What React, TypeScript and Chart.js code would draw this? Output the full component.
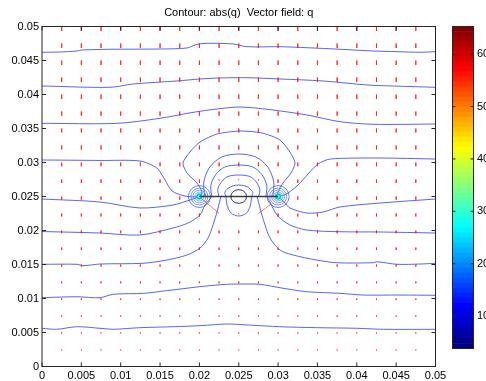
import { useEffect, useRef } from 'react';
import { Chart, registerables } from 'chart.js';

Chart.register(...registerables);

const FONT = "'Liberation Sans', Arial, Helvetica, sans-serif";
const titleText = 'Contour: abs(q)  Vector field: q';

const xTicks = [0, 0.005, 0.01, 0.015, 0.02, 0.025, 0.03, 0.035, 0.04, 0.045, 0.05];
const xTickLabels = ['0', '0.005', '0.01', '0.015', '0.02', '0.025', '0.03', '0.035', '0.04', '0.045', '0.05'];
const yTicks = [0, 0.005, 0.01, 0.015, 0.02, 0.025, 0.03, 0.035, 0.04, 0.045, 0.05];
const yTickLabels = ['0', '0.005', '0.01', '0.015', '0.02', '0.025', '0.03', '0.035', '0.04', '0.045', '0.05'];

const colorMin = 3.8;
const colorMax = 65.3;
const colorTicks = [10, 20, 30, 40, 50, 60];
const colorTickLabels = ['10', '20', '30', '40', '50', '60'];

// contour lines of abs(q), as [x, y]
const contourTop1 = [[0, 0.04621], [0.00229, 0.04625], [0.00445, 0.0464], [0.00508, 0.04654], [0.00864, 0.04665], [0.01499, 0.04669], [0.01842, 0.04684], [0.01969, 0.04738], [0.02097, 0.04753], [0.02427, 0.04743], [0.02605, 0.04703], [0.03024, 0.04703], [0.03367, 0.04688], [0.03787, 0.04665], [0.04206, 0.0464], [0.04511, 0.0463], [0.04803, 0.04621], [0.05, 0.0463]];
const contourTop2 = [[0, 0.04125], [0.00864, 0.04106], [0.01156, 0.04154], [0.01715, 0.04199], [0.02008, 0.04228], [0.02262, 0.04243], [0.02605, 0.04247], [0.03024, 0.04228], [0.03571, 0.04199], [0.0413, 0.0414], [0.0446, 0.04125], [0.05, 0.04106]];
const contourTop3 = [[0, 0.03576], [0.00953, 0.03576], [0.01499, 0.0365], [0.01969, 0.03747], [0.02427, 0.03812], [0.02605, 0.03812], [0.02935, 0.03772], [0.03367, 0.03699], [0.03787, 0.036], [0.04206, 0.03562], [0.05, 0.03566]];
const contourLobe = [[0, 0.03037], [0.00737, 0.0303], [0.01245, 0.03022], [0.01461, 0.02919], [0.01563, 0.02743], [0.01652, 0.02581], [0.01817, 0.02507], [0.02, 0.025], [0.02033, 0.02566], [0.01969, 0.02699], [0.01842, 0.02846], [0.01792, 0.02993], [0.0188, 0.03154], [0.02008, 0.03301], [0.02224, 0.03419], [0.02516, 0.03463], [0.02795, 0.03434], [0.03024, 0.03331], [0.03151, 0.03154], [0.03215, 0.02993], [0.03164, 0.02846], [0.03062, 0.02699], [0.02999, 0.02566], [0.03, 0.025], [0.03126, 0.02551], [0.03253, 0.02669], [0.0338, 0.02831], [0.03507, 0.02978], [0.0366, 0.03051], [0.04295, 0.03066], [0.05, 0.03051]];
const contourMidLeft = [[0, 0.02463], [0.00737, 0.02419], [0.01245, 0.02331], [0.01665, 0.02375], [0.01842, 0.02434], [0.01969, 0.02485], [0.02, 0.025]];
const contourMidRight = [[0.03, 0.025], [0.03088, 0.02404], [0.03151, 0.02331], [0.03363, 0.02257], [0.03571, 0.02272], [0.03787, 0.02346], [0.04295, 0.02404], [0.05, 0.02463]];
const contourLow1Left = [[0, 0.01985], [0.00737, 0.01963], [0.01245, 0.01934], [0.01665, 0.02037], [0.01855, 0.0211], [0.02008, 0.02228], [0.02071, 0.02375], [0.02135, 0.02463], [0.0216, 0.025]];
const contourLow1Right = [[0.02859, 0.025], [0.02897, 0.02419], [0.02986, 0.02228], [0.03151, 0.02081], [0.03367, 0.02007], [0.03787, 0.01982], [0.04295, 0.01978], [0.05, 0.01963]];
const contourLow2Left = [[0, 0.01503], [0.00445, 0.01503], [0.00521, 0.01482], [0.00737, 0.01507], [0.01283, 0.01518], [0.01588, 0.01566], [0.01842, 0.0164], [0.02008, 0.01743], [0.0211, 0.0189], [0.02173, 0.02081], [0.02224, 0.02272], [0.02262, 0.02449], [0.02274, 0.025]];
const contourLow2Right = [[0.02732, 0.025], [0.02745, 0.02449], [0.02783, 0.02272], [0.02834, 0.02081], [0.02897, 0.0189], [0.03024, 0.01713], [0.03189, 0.0164], [0.0349, 0.01566], [0.03748, 0.01526], [0.04206, 0.01526], [0.04257, 0.01541], [0.04511, 0.01503], [0.04803, 0.01507], [0.05, 0.01518]];
const contourLow3 = [[0, 0.01012], [0.00441, 0.01026], [0.00737, 0.01012], [0.00906, 0.01062], [0.01287, 0.01076], [0.01584, 0.01115], [0.02008, 0.01174], [0.02347, 0.01209], [0.026, 0.01213], [0.0277, 0.01209], [0.03066, 0.0115], [0.03363, 0.011], [0.03787, 0.01076], [0.04083, 0.01051], [0.04549, 0.01051], [0.05, 0.01047]];
const contourLow4 = [[0, 0.00562], [0.00186, 0.00547], [0.00441, 0.00585], [0.00737, 0.00562], [0.00906, 0.00547], [0.01245, 0.00571], [0.01669, 0.00585], [0.02008, 0.006], [0.02347, 0.00625], [0.0262, 0.0061], [0.03024, 0.00585], [0.0349, 0.00571], [0.03999, 0.00562], [0.04337, 0.00547], [0.05, 0.00547]];
const arcPlate1 = [[0.02336, 0.025], [0.02323, 0.02559], [0.02361, 0.02618], [0.02426, 0.02657], [0.025, 0.02669], [0.02576, 0.02657], [0.0264, 0.02618], [0.02679, 0.02559], [0.02666, 0.025]];
const arcPlate2 = [[0.02247, 0.025], [0.02234, 0.0261], [0.02285, 0.02721], [0.02361, 0.02794], [0.025, 0.02816], [0.0264, 0.02794], [0.02717, 0.02721], [0.02767, 0.0261], [0.02755, 0.025]];
const arcPlate3 = [[0.02158, 0.025], [0.02145, 0.02662], [0.02208, 0.02824], [0.02323, 0.02934], [0.025, 0.02963], [0.02679, 0.02934], [0.02793, 0.02824], [0.02856, 0.02662], [0.02844, 0.025]];
const arcPlate4 = [[0.02069, 0.025], [0.02056, 0.02713], [0.02132, 0.02934], [0.02285, 0.03081], [0.025, 0.03125], [0.02717, 0.03081], [0.02869, 0.02934], [0.02945, 0.02713], [0.02933, 0.025]];
const arcBelow = [[0.02338, 0.025], [0.02351, 0.02375], [0.02402, 0.02257], [0.025, 0.02213], [0.02599, 0.02257], [0.02649, 0.02375], [0.02662, 0.025]];
const centerLoop = [[0.026, 0.025], [0.02587, 0.0255], [0.0255, 0.02587], [0.025, 0.026], [0.0245, 0.02587], [0.02413, 0.0255], [0.024, 0.025], [0.02413, 0.0245], [0.0245, 0.02413], [0.025, 0.024], [0.0255, 0.02413], [0.02587, 0.0245], [0.026, 0.025]];

const plateXs = [0.02, 0.03];
const plateY = 0.025;

// vector field q
const arrowXs = [0.0025, 0.005, 0.0075, 0.01, 0.0125, 0.015, 0.0175, 0.02, 0.0225, 0.025, 0.0275, 0.03, 0.0325, 0.035, 0.0375, 0.04, 0.0425, 0.045, 0.0475];
const arrowYs = [0.05, 0.0475, 0.045, 0.0425, 0.04, 0.0375, 0.035, 0.0325, 0.03, 0.0275, 0.025, 0.0225, 0.02, 0.0175, 0.015, 0.0125, 0.01, 0.0075, 0.005, 0.0025];
const arrowRowV = [-0.00066, -0.00066, -0.00066, -0.00066, -0.00066, -0.00062, -0.00059, -0.00059, -0.00055, -0.00051, -0.00048, -0.00044, -0.0004, -0.00037, -0.00031, -0.00026, -0.00022, -0.00018, -0.00015, -0.00013];
// [x, y, u, v] near the plate
const arrowNearPlate = [
  [0.02, 0.025, 0, 0], [0.0225, 0.025, 0, 0], [0.025, 0.025, 0, 0], [0.0275, 0.025, 0, 0], [0.03, 0.025, 0, 0],
  [0.0225, 0.0275, 0, -0.00015], [0.025, 0.0275, 0, -0.0001], [0.0275, 0.0275, 0, -0.00015],
  [0.0225, 0.0225, -0.00216, 0.00213], [0.025, 0.0225, 0, -0.0001], [0.0275, 0.0225, 0.0016, 0.0014],
];

const pts = (arr: number[][]) => arr.map(([x, y]) => ({ x, y }));

function jet(t: number) {
  const c = (v: number) => Math.round(255 * Math.max(0, Math.min(1, v)));
  return `rgb(${c(1.5 - Math.abs(4 * t - 3))},${c(1.5 - Math.abs(4 * t - 2))},${c(1.5 - Math.abs(4 * t - 1))})`;
}

const mainFrame = {
  id: 'mainFrame',
  afterDraw(chart: any) {
    const { ctx, chartArea: a, scales } = chart;
    ctx.save();
    ctx.strokeStyle = '#262626';
    ctx.lineWidth = 1;
    ctx.strokeRect(a.left, a.top, a.right - a.left, a.bottom - a.top);
    ctx.beginPath();
    xTicks.forEach((v) => {
      const p = scales.x.getPixelForValue(v);
      ctx.moveTo(p, a.bottom); ctx.lineTo(p, a.bottom - 4);
      ctx.moveTo(p, a.top); ctx.lineTo(p, a.top + 4);
    });
    yTicks.forEach((v) => {
      const p = scales.y.getPixelForValue(v);
      ctx.moveTo(a.left, p); ctx.lineTo(a.left + 4, p);
      ctx.moveTo(a.right, p); ctx.lineTo(a.right - 4, p);
    });
    ctx.stroke();
    ctx.restore();
  },
};

const barFrame = {
  id: 'barFrame',
  afterDraw(chart: any) {
    const { ctx, chartArea: a, scales } = chart;
    ctx.save();
    ctx.strokeStyle = '#262626';
    ctx.lineWidth = 1;
    ctx.strokeRect(a.left, a.top, a.right - a.left, a.bottom - a.top);
    ctx.beginPath();
    colorTicks.forEach((v) => {
      const p = scales.y.getPixelForValue(v);
      ctx.moveTo(a.left, p); ctx.lineTo(a.left + 3, p);
      ctx.moveTo(a.right, p); ctx.lineTo(a.right - 3, p);
    });
    ctx.stroke();
    ctx.restore();
  },
};

export default function App() {
  const mainRef = useRef<HTMLCanvasElement>(null);
  const barRef = useRef<HTMLCanvasElement>(null);

  useEffect(() => {
    const arrowPts: any[] = [];
    arrowYs.forEach((y, r) => {
      arrowXs.forEach((x) => {
        const o = arrowNearPlate.find((a) => a[0] === x && a[1] === y);
        const u = o ? o[2] : 0;
        const v = o ? o[3] : arrowRowV[r];
        if (u === 0 && v === 0) return;
        arrowPts.push({ x, y }, { x: x + u, y: y + v }, { x: NaN, y: NaN });
      });
    });

    const line = (data: number[][], color: string, width = 1, tension = 0.3) => ({
      data: pts(data), borderColor: color, borderWidth: width, pointRadius: 0, fill: false, tension,
    });
    const charges = plateXs.map((x) => ({ x, y: plateY }));
    const ring = (r: number, color: string) => ({
      data: charges, showLine: false, pointRadius: r, pointBorderWidth: 1,
      pointBorderColor: color, pointBackgroundColor: 'rgba(0,0,0,0)',
    });
    const blue = 'rgba(40,60,235,0.78)';

    const datasets: any[] = [
      line(plateXs.map((x) => [x, plateY]), 'rgba(40,40,40,0.9)', 1.6, 0),
      { data: charges, showLine: false, pointRadius: 1.6, pointBorderWidth: 0, pointBackgroundColor: 'rgb(90,255,150)' },
      { data: charges, showLine: false, pointRadius: 3.2, pointBorderWidth: 0, pointBackgroundColor: 'rgb(0,200,235)' },
      { data: arrowPts, borderColor: 'rgba(255,20,20,0.6)', borderWidth: 1, pointRadius: 0, fill: false, tension: 0, spanGaps: false },
      ring(4.5, 'rgba(70,150,255,0.8)'),
      ring(6.5, 'rgba(90,140,255,0.75)'),
      ring(8.5, 'rgba(80,120,250,0.75)'),
      ring(11, 'rgba(60,90,245,0.75)'),
      line(centerLoop, 'rgba(10,10,120,0.9)', 1, 0.2),
      line(arcPlate1, blue), line(arcPlate2, blue), line(arcPlate3, blue), line(arcPlate4, blue),
      line(arcBelow, blue),
      line(contourTop1, blue), line(contourTop2, blue), line(contourTop3, blue),
      line(contourLobe, blue, 1, 0.25),
      line(contourMidLeft, blue), line(contourMidRight, blue),
      line(contourLow1Left, blue), line(contourLow1Right, blue),
      line(contourLow2Left, blue), line(contourLow2Right, blue),
      line(contourLow3, blue), line(contourLow4, blue),
    ];

    const tickFont = { family: FONT, size: 11 };
    const main = new Chart(mainRef.current as HTMLCanvasElement, {
      type: 'line',
      data: { datasets },
      options: {
        animation: false,
        responsive: false,
        devicePixelRatio: 1,
        events: [],
        layout: { padding: { left: 0, right: 50.5, top: 0, bottom: 0 } },
        plugins: {
          legend: { display: false },
          tooltip: { enabled: false },
          title: {
            display: true, text: titleText, fullSize: false, color: '#000',
            font: { family: FONT, size: 11, weight: 'normal' }, padding: { top: 6.4, bottom: 6.9 },
          },
        },
        scales: {
          x: {
            type: 'linear', min: 0, max: 0.05,
            afterBuildTicks: (s: any) => { s.ticks = xTicks.map((v) => ({ value: v })); },
            afterFit: (s: any) => { s.height = 14.5; },
            grid: { display: false, drawTicks: false },
            border: { display: false },
            ticks: { autoSkip: false, maxRotation: 0, padding: 3, color: '#000', font: tickFont, callback: (_v: any, i: number) => xTickLabels[i] },
          },
          y: {
            type: 'linear', min: 0, max: 0.05,
            afterBuildTicks: (s: any) => { s.ticks = yTicks.map((v) => ({ value: v })); },
            afterFit: (s: any) => { s.width = 42; },
            grid: { display: false, drawTicks: false },
            border: { display: false },
            ticks: { autoSkip: false, padding: 3, color: '#000', font: tickFont, callback: (_v: any, i: number) => yTickLabels[i] },
          },
        },
      } as any,
      plugins: [mainFrame],
    });

    const steps = 64;
    const span = (colorMax - colorMin) / steps;
    const barSets = Array.from({ length: steps }, (_, i) => ({
      data: [[colorMin + i * span, colorMin + (i + 1) * span]],
      backgroundColor: jet(i / (steps - 1)),
      borderWidth: 0,
      barPercentage: 1,
      categoryPercentage: 1,
    }));
    const bar = new Chart(barRef.current as HTMLCanvasElement, {
      type: 'bar',
      data: { labels: [''], datasets: barSets as any },
      options: {
        animation: false,
        responsive: false,
        devicePixelRatio: 1,
        events: [],
        layout: { padding: { left: 452.5, right: 0, top: 26.5, bottom: 32.5 } },
        plugins: { legend: { display: false }, tooltip: { enabled: false }, title: { display: false } },
        scales: {
          x: { display: false, stacked: true },
          y: {
            position: 'right', min: colorMin, max: colorMax,
            afterBuildTicks: (s: any) => { s.ticks = colorTicks.map((v) => ({ value: v })); },
            afterFit: (s: any) => { s.width = 12.5; },
            grid: { display: false, drawTicks: false },
            border: { display: false },
            ticks: { padding: 3.5, color: '#000', font: tickFont, callback: (_v: any, i: number) => colorTickLabels[i] },
          },
        },
      } as any,
      plugins: [barFrame],
    });

    return () => { main.destroy(); bar.destroy(); };
  }, []);

  return (
    <div style={{ position: 'fixed', left: 0, top: 0, width: 486, height: 381, background: '#fff' }}>
      <canvas ref={mainRef} width={486} height={381} style={{ position: 'absolute', left: 0, top: 0 }} />
      <canvas ref={barRef} width={486} height={381} style={{ position: 'absolute', left: 0, top: 0 }} />
    </div>
  );
}
